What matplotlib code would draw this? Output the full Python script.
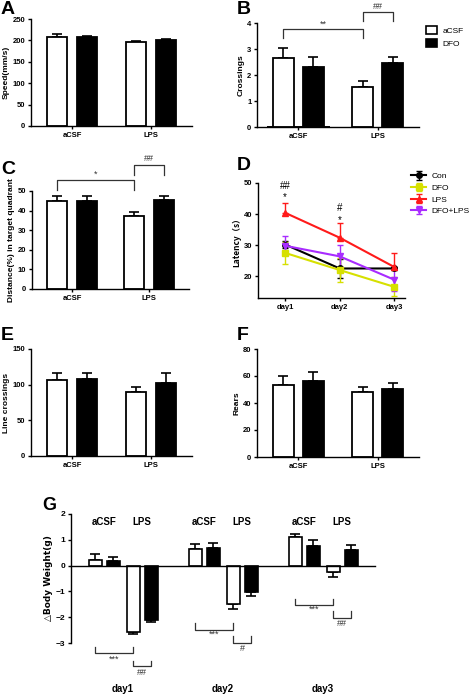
import numpy as np
import matplotlib
matplotlib.use('Agg')
import matplotlib.pyplot as plt

plt.rcParams['font.family'] = ['Liberation Sans', 'DejaVu Sans']
plt.rcParams['font.weight'] = 'bold'
plt.rcParams['axes.linewidth'] = 1.0

W, H = 472, 697

groups = ['aCSF', 'LPS']
# [aCSF-white, DFO-black] per group, and upper error
speed = [[208.5, 208], [195.5, 201]]
speed_err = [[7, 3], [3.5, 3]]
crossings = [[2.64, 2.32], [1.53, 2.47]]
crossings_err = [[0.4, 0.39], [0.24, 0.22]]
distance = [[45.0, 44.7], [37.0, 45.3]]
distance_err = [[2.6, 2.5], [2.4, 2.2]]
line_cross = [[107, 108], [90, 102]]
line_cross_err = [[9, 9], [7, 15]]
rears = [[53, 56], [48.4, 50.7]]
rears_err = [[7, 7], [3.8, 4.3]]

days = ['day1', 'day2', 'day3']
latency = {
    'Con': [30.2, 22.5, 22.5],
    'DFO': [27.5, 22.0, 16.6],
    'LPS': [40.4, 32.4, 23.0],
    'DFO+LPS': [29.8, 26.4, 18.9],
}
latency_err = {
    'Con': [1.0, 3.0, 0.5],
    'DFO': [3.5, 4.0, 3.0],
    'LPS': [3.2, 4.6, 4.5],
    'DFO+LPS': [3.0, 3.8, 3.5],
}
lat_style = {
    'Con': ('black', 'o'),
    'DFO': ('#d6e000', 's'),
    'LPS': ('#ff1a1a', '^'),
    'DFO+LPS': ('#a82cff', 'v'),
}

# body weight change: order aCSF-white, aCSF-DFO, LPS-white, LPS-DFO
weight = [[0.23, 0.19, -2.57, -2.09],
          [0.65, 0.70, -1.48, -1.02],
          [1.10, 0.75, -0.23, 0.59]]
weight_err = [[0.23, 0.13, 0.10, 0.10],
              [0.19, 0.19, 0.20, 0.17],
              [0.13, 0.23, 0.22, 0.21]]


fig = plt.figure(figsize=(W / 100, H / 100), dpi=100)


def pix_axes(x0, y0, x1, y1):
    return fig.add_axes([x0 / W, 1 - y1 / H, (x1 - x0) / W, (y1 - y0) / H])


def err_bar(ax, x, v, e, color='black'):
    lo = 0 if v >= 0 else e
    hi = e if v >= 0 else 0
    ax.errorbar(x, v, yerr=[[lo], [hi]], fmt='none', ecolor=color,
                elinewidth=1.2, capsize=3.5, capthick=1.2, zorder=1)


def bar_panel(ax, vals, errs, ylim, yticks, ylabel):
    off, w = 0.19, 0.26
    for g in range(2):
        for k, fc in enumerate(['white', 'black']):
            x = g + (-off if k == 0 else off)
            ax.bar(x, vals[g][k], width=w, color=fc, edgecolor='black',
                   linewidth=1.3, zorder=2)
            err_bar(ax, x, vals[g][k], errs[g][k])
    ax.set_xlim(-0.52, 1.52)
    ax.set_ylim(*ylim)
    ax.set_yticks(yticks)
    ax.set_xticks([0, 1])
    ax.set_xticklabels(groups)
    ax.tick_params(labelsize=5.5, length=2.5, width=1, pad=1.5)
    ax.set_ylabel(ylabel, fontsize=6, fontweight='bold', labelpad=2)
    for s in ['top', 'right']:
        ax.spines[s].set_visible(False)


def bracket(ax, x0, x1, ytop, ybot, txt, ty, color='#333333', fs=6.5):
    ax.plot([x0, x0, x1, x1], [ybot, ytop, ytop, ybot], color=color,
            lw=0.9, clip_on=False)
    ax.text((x0 + x1) / 2, ty, txt, ha='center', va='center', fontsize=fs,
            color=color, fontweight='normal', clip_on=False)


def panel_letter(x, y, s, fs=14):
    fig.text(x / W, 1 - y / H, s, fontsize=fs, fontweight='bold',
             ha='left', va='center')


# A
axA = pix_axes(31, 19, 192, 126)
bar_panel(axA, speed, speed_err, (0, 250), [0, 50, 100, 150, 200, 250], 'Speed(mm/s)')
panel_letter(1, 10, 'A')

# B
axB = pix_axes(257, 23, 419, 127)
bar_panel(axB, crossings, crossings_err, (0, 4), [0, 1, 2, 3, 4], 'Crossings')
bracket(axB, -0.19, 0.81, 3.77, 3.44, '**', 3.95)
bracket(axB, 0.81, 1.19, 4.42, 4.08, '##', 4.62)
panel_letter(237, 10, 'B')
axB.bar([0], [0], color='white', edgecolor='black', linewidth=1.2, label='aCSF')
axB.bar([0], [0], color='black', edgecolor='black', linewidth=1.2, label='DFO')
axB.legend(loc='upper left', bbox_to_anchor=(1.02, 1.0), frameon=False,
           prop={'size': 6, 'weight': 'normal'}, handlelength=1.4,
           handleheight=1.0, handletextpad=0.6, labelspacing=0.5,
           borderaxespad=0)

# C
axC = pix_axes(32, 191, 189, 289)
bar_panel(axC, distance, distance_err, (0, 50), [0, 10, 20, 30, 40, 50],
          'Distance(%) in target quadrant')
bracket(axC, -0.19, 0.81, 55.7, 50.7, '*', 58.5)
bracket(axC, 0.81, 1.19, 63.3, 58.0, '##', 66.5)
panel_letter(1, 170, 'C')

# D
axD = pix_axes(258, 183, 405, 298)
xd = np.arange(len(days))
for name, v in latency.items():
    c, m = lat_style[name]
    axD.errorbar(xd, v, yerr=[[0, 0, 0] if name == 'LPS' else latency_err[name],
                              latency_err[name]],
                 color=c, marker=m, markersize=4, lw=1.5, elinewidth=1,
                 capsize=2.5, capthick=1, label=name)
axD.set_xlim(-0.5, 2.2)
axD.set_ylim(13, 50)
axD.set_yticks([20, 30, 40, 50])
axD.set_xticks(xd)
axD.set_xticklabels(days)
axD.tick_params(labelsize=5.5, length=2.5, width=1, pad=1.5)
axD.set_ylabel('Latency（s）', fontsize=6, fontweight='bold', labelpad=2,
               family=['Noto Sans CJK SC', 'DejaVu Sans'])
for s in ['top', 'right']:
    axD.spines[s].set_visible(False)
for x, y, t in [(0, 49, '##'), (0, 45.6, '*'), (1, 41.8, '#'), (1, 38.2, '*')]:
    axD.text(x, y, t, ha='center', va='center', fontsize=7,
             fontweight='normal', clip_on=False)
axD.legend(loc='upper left', bbox_to_anchor=(1.02, 1.12), frameon=False,
           prop={'size': 6, 'weight': 'normal'}, handlelength=1.8,
           handletextpad=0.6, labelspacing=0.45, borderaxespad=0)
panel_letter(237, 166, 'D')

# E
axE = pix_axes(31, 349, 192, 456)
bar_panel(axE, line_cross, line_cross_err, (0, 150), [0, 50, 100, 150], 'Line crossings')
panel_letter(1, 336, 'E')

# F
axF = pix_axes(257, 349, 419, 457)
bar_panel(axF, rears, rears_err, (0, 80), [0, 20, 40, 60, 80], 'Rears')
panel_letter(237, 336, 'F')

# G
axG = pix_axes(71, 514, 375, 643)
offs = [-0.28, -0.10, 0.10, 0.28]
fcs = ['white', 'black', 'white', 'black']
for d in range(3):
    for k in range(4):
        x = d + offs[k]
        axG.bar(x, weight[d][k], width=0.13, color=fcs[k], edgecolor='black',
                linewidth=1.2, zorder=2)
        err_bar(axG, x, weight[d][k], weight_err[d][k])
    axG.text(d - 0.19, 1.7, 'aCSF', ha='center', va='center', fontsize=7)
    axG.text(d + 0.19, 1.7, 'LPS', ha='center', va='center', fontsize=7)
    axG.text(d, -4.8, days[d], ha='center', va='center', fontsize=7,
             clip_on=False)
axG.set_xlim(-0.52, 2.52)
axG.set_ylim(-3, 2)
axG.set_yticks([-3, -2, -1, 0, 1, 2])
axG.set_xticks([])
axG.spines['bottom'].set_position(('data', 0))
for s in ['top', 'right']:
    axG.spines[s].set_visible(False)
axG.tick_params(labelsize=6, length=2.5, width=1, pad=1.5)
axG.set_ylabel('△Body Weight(g)', fontsize=6.5, fontweight='bold', labelpad=2,
               family=['DejaVu Sans'])

g_brackets = [
    (0, -3.38, -3.16, '***', -3.61, -3.90, -3.68, '##', -4.13),
    (1, -2.48, -2.22, '***', -2.67, -2.99, -2.74, '#', -3.21),
    (2, -1.51, -1.29, '***', -1.70, -2.03, -1.77, '##', -2.25),
]
for d, l1, e1, t1, y1, l2, e2, t2, y2 in g_brackets:
    bracket(axG, d - 0.28, d + 0.10, l1, e1, t1, y1)
    bracket(axG, d + 0.10, d + 0.28, l2, e2, t2, y2)
panel_letter(42, 505, 'G', fs=13)

fig.savefig('out.png', dpi=100)
